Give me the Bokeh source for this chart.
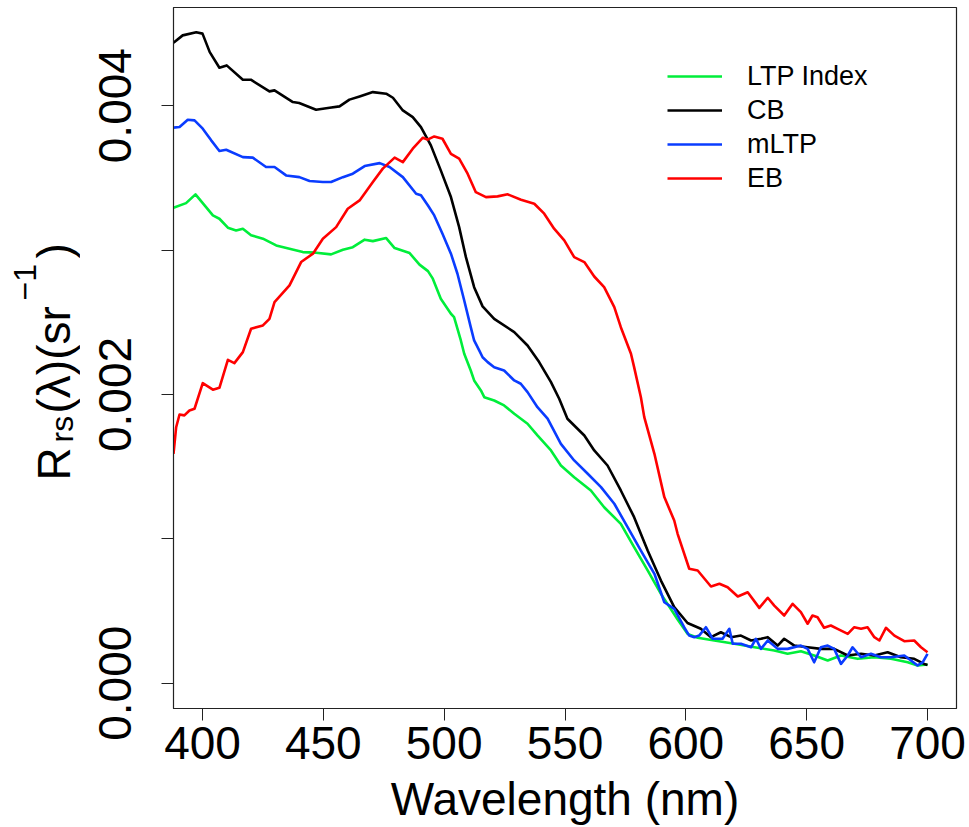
from bokeh.plotting import figure
from bokeh.models import Range1d, FixedTicker, PrintfTickFormatter, Legend, LegendItem, Label
from bokeh.layouts import row
from bokeh.embed import file_html
from bokeh.resources import INLINE
import math

# ---------------- data ----------------
wl_ltp = [388, 393.2, 397.1, 400.1, 404.3, 407, 410.5, 413.9, 416.7, 420.1,
          425, 430.5, 436, 441.5, 447, 453.2, 458.1, 462.2, 467.1, 470.5,
          476, 479.5, 485.7, 489.8, 493.3, 495.3, 498.6, 502.8, 504.1, 506.9,
          508.3, 511, 512.4, 515.2, 516.6, 520.7, 524.8, 529, 534.5, 538.6,
          544.2, 548.3, 553.8, 560.7, 566.2, 573.1, 578.6, 584.2, 589.7, 596.6,
          600.7, 604.9, 611.8, 620.1, 628.4, 636.6, 642.1, 647.6, 653.1, 658.7,
          664.2, 671.1, 678, 684.9, 691.8, 695.9, 700]
rrs_ltp = [3.293e-3, 3.325e-3, 3.386e-3, 3.325e-3, 3.240e-3, 3.217e-3, 3.155e-3, 3.136e-3, 3.148e-3, 3.102e-3,
           3.079e-3, 3.032e-3, 3.009e-3, 2.986e-3, 2.982e-3, 2.970e-3, 3.002e-3, 3.020e-3, 3.072e-3, 3.062e-3,
           3.083e-3, 3.014e-3, 2.979e-3, 2.899e-3, 2.854e-3, 2.802e-3, 2.663e-3, 2.559e-3, 2.536e-3, 2.374e-3,
           2.282e-3, 2.166e-3, 2.097e-3, 2.028e-3, 1.981e-3, 1.958e-3, 1.924e-3, 1.866e-3, 1.797e-3, 1.716e-3,
           1.612e-3, 1.508e-3, 1.427e-3, 1.335e-3, 1.219e-3, 1.104e-3, 0.942e-3, 0.781e-3, 0.619e-3, 0.441e-3,
           0.342e-3, 0.315e-3, 0.296e-3, 0.273e-3, 0.249e-3, 0.227e-3, 0.204e-3, 0.222e-3, 0.192e-3, 0.157e-3,
           0.192e-3, 0.169e-3, 0.180e-3, 0.169e-3, 0.145e-3, 0.123e-3, 0.130e-3]

wl_cb = [388, 391.8, 397.4, 400, 403, 407, 410, 416.7, 420, 427.7,
         429.8, 437.4, 440, 447, 452.6, 456.7, 460.8, 465, 470.5, 476,
         478.8, 482.9, 487, 490.4, 494.5, 498.6, 502.8, 506.2, 509, 512.4,
         515.9, 520.7, 529, 534.5, 539.3, 544.2, 547.6, 551, 558, 562.1,
         567.6, 573.1, 578.6, 584.2, 589.7, 595.2, 600.7, 606.2, 610.4, 614.5,
         618.7, 622.8, 627, 631.1, 633.9, 638, 640.7, 644.9, 650.4, 655.9,
         661.4, 667, 672.5, 678, 683.5, 689, 694.5, 698.6, 700]
rrs_cb = [4.436e-3, 4.487e-3, 4.508e-3, 4.499e-3, 4.371e-3, 4.263e-3, 4.279e-3, 4.180e-3, 4.180e-3, 4.099e-3,
          4.106e-3, 4.025e-3, 4.018e-3, 3.972e-3, 3.986e-3, 3.995e-3, 4.042e-3, 4.064e-3, 4.094e-3, 4.083e-3,
          4.055e-3, 3.967e-3, 3.921e-3, 3.852e-3, 3.725e-3, 3.552e-3, 3.367e-3, 3.159e-3, 2.951e-3, 2.743e-3,
          2.610e-3, 2.524e-3, 2.432e-3, 2.339e-3, 2.224e-3, 2.085e-3, 1.970e-3, 1.832e-3, 1.716e-3, 1.612e-3,
          1.508e-3, 1.335e-3, 1.150e-3, 0.919e-3, 0.711e-3, 0.527e-3, 0.417e-3, 0.377e-3, 0.319e-3, 0.353e-3,
          0.319e-3, 0.330e-3, 0.296e-3, 0.308e-3, 0.319e-3, 0.261e-3, 0.308e-3, 0.261e-3, 0.249e-3, 0.238e-3,
          0.238e-3, 0.192e-3, 0.204e-3, 0.192e-3, 0.215e-3, 0.180e-3, 0.169e-3, 0.134e-3, 0.127e-3]

wl_mltp = [388, 390.5, 393.9, 396.7, 400.1, 403.6, 407, 409.8, 416.7, 420.8,
           426.3, 429.8, 434.6, 440.1, 444.3, 449.8, 453.2, 458.1, 462.2, 467.1,
           473.3, 477.4, 482.9, 488.4, 490.4, 493.3, 495.9, 499.3, 502.8, 505.5,
           508.3, 511, 512.4, 514.5, 515.9, 518, 520.7, 524.8, 529, 531.7,
           534.5, 538.6, 542.8, 548.3, 553.8, 559.4, 564.9, 570.4, 575.9, 581.4,
           587, 591.1, 595.2, 599.3, 601.4, 603.5, 605.5, 608.3, 611.1, 615.2,
           618, 619.4, 622.8, 627, 629, 631.1, 633.9, 638, 642.1, 647.6,
           650.4, 653.1, 655.9, 658.7, 661.4, 664.2, 667, 669, 672.5, 676.6,
           680.7, 684.9, 690.4, 695.9, 698, 700]
rrs_mltp = [3.848e-3, 3.852e-3, 3.903e-3, 3.898e-3, 3.841e-3, 3.760e-3, 3.686e-3, 3.695e-3, 3.644e-3, 3.640e-3,
            3.575e-3, 3.575e-3, 3.517e-3, 3.505e-3, 3.478e-3, 3.471e-3, 3.471e-3, 3.505e-3, 3.529e-3, 3.582e-3,
            3.602e-3, 3.575e-3, 3.505e-3, 3.390e-3, 3.379e-3, 3.309e-3, 3.240e-3, 3.113e-3, 2.975e-3, 2.836e-3,
            2.651e-3, 2.466e-3, 2.374e-3, 2.305e-3, 2.258e-3, 2.224e-3, 2.189e-3, 2.166e-3, 2.097e-3, 2.074e-3,
            2.016e-3, 1.912e-3, 1.832e-3, 1.658e-3, 1.543e-3, 1.451e-3, 1.358e-3, 1.243e-3, 1.081e-3, 0.919e-3,
            0.758e-3, 0.561e-3, 0.515e-3, 0.388e-3, 0.330e-3, 0.319e-3, 0.330e-3, 0.388e-3, 0.308e-3, 0.308e-3,
            0.377e-3, 0.273e-3, 0.273e-3, 0.249e-3, 0.308e-3, 0.238e-3, 0.296e-3, 0.238e-3, 0.238e-3, 0.261e-3,
            0.238e-3, 0.145e-3, 0.249e-3, 0.261e-3, 0.238e-3, 0.134e-3, 0.192e-3, 0.249e-3, 0.180e-3, 0.204e-3,
            0.180e-3, 0.180e-3, 0.192e-3, 0.123e-3, 0.145e-3, 0.204e-3]

wl_eb = [388, 389.1, 390.5, 392.5, 394.6, 396.7, 400.1, 404.3, 407, 410.5,
         413.2, 416.7, 420.1, 425, 427.7, 429.8, 436, 440.8, 445.7, 449.8,
         455.3, 460.1, 465, 470.5, 474.6, 479.5, 482.9, 487, 491.2, 493.1,
         495.9, 499.3, 502.8, 506.2, 509.7, 513.1, 517.3, 522.1, 526.3, 531.8,
         537.3, 541.4, 545.5, 549.7, 553.8, 558, 562.1, 566.2, 570.4, 573.1,
         577.3, 578.6, 581.4, 582.8, 587, 591.1, 595.2, 596.6, 601.4, 604.9,
         610.4, 613.9, 617.3, 621.5, 625.6, 630.4, 633.9, 636.6, 640.7, 644.2,
         647.6, 650.4, 652.4, 654.5, 657.2, 660, 662.8, 667, 669.7, 672.5,
         675.2, 678, 680.1, 682.8, 686.3, 690.4, 694.5, 697.3, 700]
rrs_eb = [1.589e-3, 1.773e-3, 1.861e-3, 1.855e-3, 1.889e-3, 1.901e-3, 2.078e-3, 2.033e-3, 2.046e-3, 2.240e-3,
          2.217e-3, 2.293e-3, 2.455e-3, 2.478e-3, 2.524e-3, 2.639e-3, 2.755e-3, 2.917e-3, 2.975e-3, 3.079e-3,
          3.159e-3, 3.286e-3, 3.344e-3, 3.471e-3, 3.564e-3, 3.640e-3, 3.609e-3, 3.702e-3, 3.778e-3, 3.765e-3,
          3.787e-3, 3.771e-3, 3.667e-3, 3.633e-3, 3.529e-3, 3.401e-3, 3.367e-3, 3.372e-3, 3.386e-3, 3.349e-3,
          3.321e-3, 3.252e-3, 3.148e-3, 3.067e-3, 2.951e-3, 2.917e-3, 2.817e-3, 2.743e-3, 2.605e-3, 2.466e-3,
          2.282e-3, 2.189e-3, 1.981e-3, 1.843e-3, 1.589e-3, 1.289e-3, 1.127e-3, 1.035e-3, 0.793e-3, 0.781e-3,
          0.670e-3, 0.689e-3, 0.665e-3, 0.601e-3, 0.630e-3, 0.522e-3, 0.592e-3, 0.538e-3, 0.469e-3, 0.550e-3,
          0.492e-3, 0.412e-3, 0.469e-3, 0.457e-3, 0.384e-3, 0.400e-3, 0.377e-3, 0.342e-3, 0.388e-3, 0.377e-3,
          0.388e-3, 0.319e-3, 0.296e-3, 0.384e-3, 0.330e-3, 0.291e-3, 0.296e-3, 0.249e-3, 0.215e-3]

series_names = ["LTP Index", "CB", "mLTP", "EB"]
series_colors = ["#00EE3A", "#000000", "#0A3CFF", "#FF0000"]
x_ticks = [400, 450, 500, 550, 600, 650, 700]
y_ticks = [0.000, 0.002, 0.004]
y_minor_ticks = [0.001, 0.003]
x_title = "Wavelength (nm)"

FONT = "Liberation Sans"
TITLE_W = 80
TOP, BOTTOM = 7, 119

p = figure(width=969 - TITLE_W, height=827, output_backend="svg", toolbar_location=None,
           title=None,
           x_range=Range1d(388, 712), y_range=Range1d(-0.000175, 0.00468),
           min_border_left=173 - TITLE_W, min_border_right=13, min_border_top=TOP, min_border_bottom=BOTTOM)
p.grid.visible = False
p.outline_line_color = "#222222"
p.outline_line_width = 1.2
p.background_fill_color = "white"
p.border_fill_color = "white"

for ax in (p.xaxis[0], p.yaxis[0]):
    ax.axis_line_color = "#222222"
    ax.major_tick_line_color = "#222222"
    ax.minor_tick_line_color = "#222222"
    ax.major_tick_in = 0
    ax.major_tick_out = 12
    ax.major_label_text_font = FONT
    ax.major_label_text_font_size = "46px"
    ax.major_label_text_color = "black"

xa = p.xaxis[0]
xa.ticker = FixedTicker(ticks=x_ticks)
xa.minor_tick_out = 0
xa.major_label_standoff = 6
xa.axis_label = x_title
xa.axis_label_text_font = FONT
xa.axis_label_text_font_size = "46px"
xa.axis_label_text_font_style = "normal"
xa.axis_label_text_color = "black"
xa.axis_label_standoff = 11

ya = p.yaxis[0]
ya.ticker = FixedTicker(ticks=y_ticks, minor_ticks=y_minor_ticks)
ya.minor_tick_in = 0
ya.minor_tick_out = 12
ya.formatter = PrintfTickFormatter(format="%.3f")
ya.major_label_orientation = "vertical"
ya.major_label_standoff = 30

renderers = []
for wl, vals, col in [(wl_ltp, rrs_ltp, series_colors[0]), (wl_cb, rrs_cb, series_colors[1]),
                      (wl_mltp, rrs_mltp, series_colors[2]), (wl_eb, rrs_eb, series_colors[3])]:
    r = p.line(wl, vals, line_color=col, line_width=2.6, line_join="round")
    renderers.append(r)

legend = Legend(items=[LegendItem(label=n, renderers=[r]) for n, r in zip(series_names, renderers)],
                location=(494, 513), orientation="vertical",
                glyph_width=55, glyph_height=34, label_height=34, label_standoff=25,
                spacing=0, padding=0, margin=0,
                label_text_font=FONT, label_text_font_size="27px", label_text_color="black",
                border_line_color=None, background_fill_alpha=0)
p.add_layout(legend, "center")

# narrow panel on the left holding the y-axis title R_rs(λ)(sr^-1)
t = figure(width=TITLE_W, height=827, output_backend="svg", toolbar_location=None, title=None,
           x_axis_type=None, y_axis_type=None,
           min_border_left=0, min_border_right=0, min_border_top=TOP, min_border_bottom=BOTTOM,
           x_range=Range1d(0, 1), y_range=Range1d(0, 1))
t.grid.visible = False
t.outline_line_color = None
t.background_fill_color = "white"
t.border_fill_color = "white"

FB = 827 - BOTTOM   # page y of the frame bottom
DX = -12
ypieces = [
    ("R", 65, 480, "46px"),
    ("rs", 73, 442, "32px"),
    ("(λ)(sr", 65, 413, "46px"),
    ("\u22121", 36, 300, "32px"),
    (")", 65, 258, "46px"),
]
for txt, px, py, fs in ypieces:
    t.add_layout(Label(x=px + DX, y=FB - py, x_units="screen", y_units="screen", text=txt, angle=math.pi / 2,
                       text_align="left", text_baseline="alphabetic",
                       text_font=FONT, text_font_size=fs, text_color="black"))

layout = row(t, p, spacing=0)
open("out.html", "w").write(file_html(layout, INLINE))
